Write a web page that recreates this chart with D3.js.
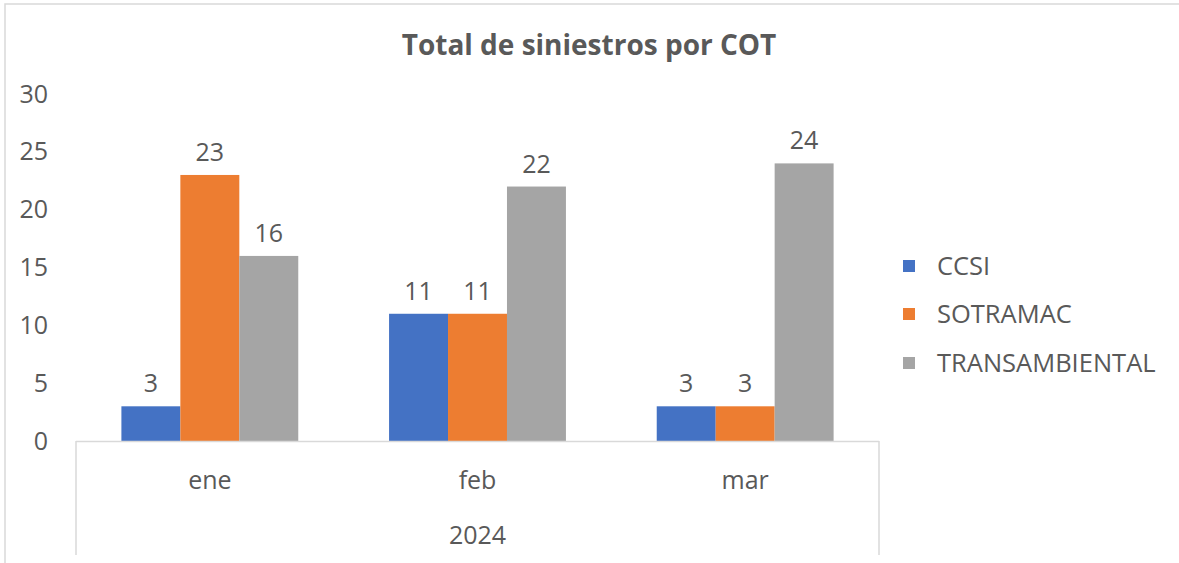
<!DOCTYPE html>
<html><head><meta charset="utf-8">
<script src="https://cdn.jsdelivr.net/npm/d3@7/dist/d3.min.js"></script>
<style>
html,body{margin:0;padding:0;background:#fff;}
svg{display:block;}
text{font-family:"Open Sans","Noto Sans",sans-serif;fill:#595959;}
</style></head>
<body>
<svg id="chart" width="1179" height="563"></svg>
<script>
const months = ["ene", "feb", "mar"];
const yearLabel = "2024";
const series = ["CCSI", "SOTRAMAC", "TRANSAMBIENTAL"];
const CCSI = [3, 11, 3];
const SOTRAMAC = [23, 11, 3];
const TRANSAMBIENTAL = [16, 22, 24];
const yTicks = [0, 5, 10, 15, 20, 25, 30];
const colors = ["#4472C4", "#ED7D31", "#A5A5A5"];
const title = "Total de siniestros por COT";

const values = [CCSI, SOTRAMAC, TRANSAMBIENTAL];
const svg = d3.select("#chart");

// chart border (top & left visible)
svg.append("rect").attr("x", 5).attr("y", 4).attr("width", 1200).attr("height", 600)
  .attr("fill", "none").attr("stroke", "#d9d9d9").attr("stroke-width", 1.5);

const L = 76, R = 879, T = 94, B = 441;
const x0 = d3.scaleBand().domain(months).range([L, R]).padding(0);
const x1 = d3.scaleBand().domain(series).range([0, x0.bandwidth()]).paddingInner(0).paddingOuter(0.77);
const y = d3.scaleLinear().domain([0, 30]).range([B, T]);

svg.append("text").attr("x", 589).attr("y", 55).attr("text-anchor", "middle")
  .style("font-size", "28px").style("font-weight", "bold").text(title);

// y tick labels
const yAxis = d3.axisLeft(y).tickValues(yTicks).tickSize(0).tickPadding(0);
const ya = svg.append("g").attr("transform", `translate(48,0)`).call(yAxis);
ya.select(".domain").remove();
ya.selectAll("text").style("font-size", "25px").style("fill", "#595959").attr("font-family", null);

// bars
months.forEach((m, i) => {
  series.forEach((s, j) => {
    const v = values[j][i];
    svg.append("rect")
      .attr("x", x0(m) + x1(s)).attr("width", x1.bandwidth())
      .attr("y", y(v)).attr("height", y(0) - y(v))
      .attr("fill", colors[j]);
    svg.append("text")
      .attr("x", x0(m) + x1(s) + x1.bandwidth() / 2)
      .attr("y", y(v) - 14)
      .attr("text-anchor", "middle").style("font-size", "25px").text(v);
  });
});

// category axis lines
const axisColor = "#d9d9d9";
svg.append("line").attr("x1", L).attr("x2", R).attr("y1", B + 0.5).attr("y2", B + 0.5)
  .attr("stroke", axisColor).attr("stroke-width", 1.5);
[L, R].forEach(xx => svg.append("line").attr("x1", xx).attr("x2", xx).attr("y1", B).attr("y2", 555)
  .attr("stroke", axisColor).attr("stroke-width", 1.5));

const xAxis = d3.axisBottom(x0).tickSize(0).tickPadding(0);
const xa = svg.append("g").attr("transform", `translate(0,${B})`).call(xAxis);
xa.select(".domain").remove();
xa.selectAll("text").attr("dy", null).attr("y", 48).style("font-size", "25px").attr("font-family", null);

svg.append("text").attr("x", (L + R) / 2).attr("y", 544).attr("text-anchor", "middle")
  .style("font-size", "25px").text(yearLabel);

// legend
const legY = [266, 314, 363];
series.forEach((s, j) => {
  svg.append("rect").attr("x", 903).attr("y", legY[j] - 6).attr("width", 12).attr("height", 12).attr("fill", colors[j]);
  svg.append("text").attr("x", 937).attr("y", legY[j] + 9).style("font-size", "25.5px").text(s);
});
</script>
</body></html>
